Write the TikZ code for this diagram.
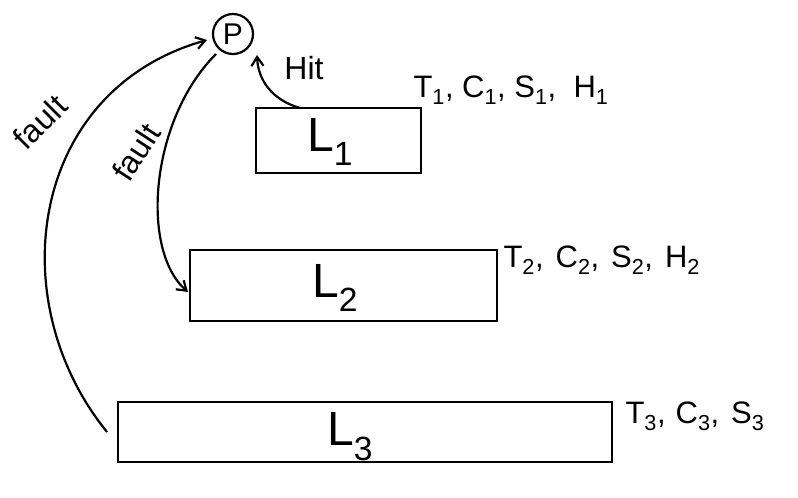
\documentclass[tikz,border=0pt]{standalone}
\usepackage{fontspec}
\setmainfont{Liberation Sans}
\usetikzlibrary{arrows.meta}
\begin{document}
\begin{tikzpicture}[x=1pt,y=-1pt,
  ink/.style={line width=2.2pt,black},
  level/.style={ink,draw},
  conn/.style={ink,-{Straight Barb[length=9pt,width=12pt]}},
  biglbl/.style={font=\fontsize{48}{50}\selectfont},
  attr/.style={font=\fontsize{31}{34}\selectfont,anchor=west},
  edgelbl/.style={font=\fontsize{32}{34}\selectfont}]
\useasboundingbox (0,0) rectangle (798,498);
% processor
\node[ink,draw,circle,minimum size=40pt,inner sep=0pt,font=\fontsize{30}{32}\selectfont] (P) at (233,34) {P};
% levels
\draw[level] (256,108) rectangle (421,173);
\node[biglbl] (L1) at (330,142) {L\textsubscript{1}};
\coordinate (L1top) at (300,108);
\draw[level] (190,250) rectangle (497,321);
\node[biglbl] (L2) at (335,288) {L\textsubscript{2}};
\coordinate (L2left) at (188,292);
\draw[level] (118,402) rectangle (612,462);
\node[biglbl] (L3) at (350,437) {L\textsubscript{3}};
\coordinate (L3left) at (107,432);
% attributes
\node[attr] (A1) at (410,90) {T\textsubscript{1}, C\textsubscript{1}, S\textsubscript{1},\; H\textsubscript{1}};
\node[attr] (A2) at (500,260) {T\textsubscript{2},\hspace{12pt}C\textsubscript{2},\hspace{12pt}S\textsubscript{2},\hspace{12pt}H\textsubscript{2}};
\node[attr] (A3) at (622,416) {T\textsubscript{3},\hspace{10pt}C\textsubscript{3},\hspace{12pt}S\textsubscript{3}};
% connectors
\coordinate (Pleft) at (207,40);
\coordinate (Pbl) at (216,54);
\coordinate (Pbr) at (257,55);
\draw[conn] (L1top) .. controls (272,100) and (258,80) .. (Pbr);
\node[edgelbl] (hit) at (304,68) {Hit};
\draw[conn] (L3left) .. controls (0,300) and (30,90) .. (Pleft);
\node[edgelbl,rotate=45] (f1) at (40,122) {fault};
\draw[conn] (Pbl) .. controls (150,120) and (140,250) .. (L2left);
\node[edgelbl,rotate=57] (f2) at (136,152) {fault};
\end{tikzpicture}
\end{document}
